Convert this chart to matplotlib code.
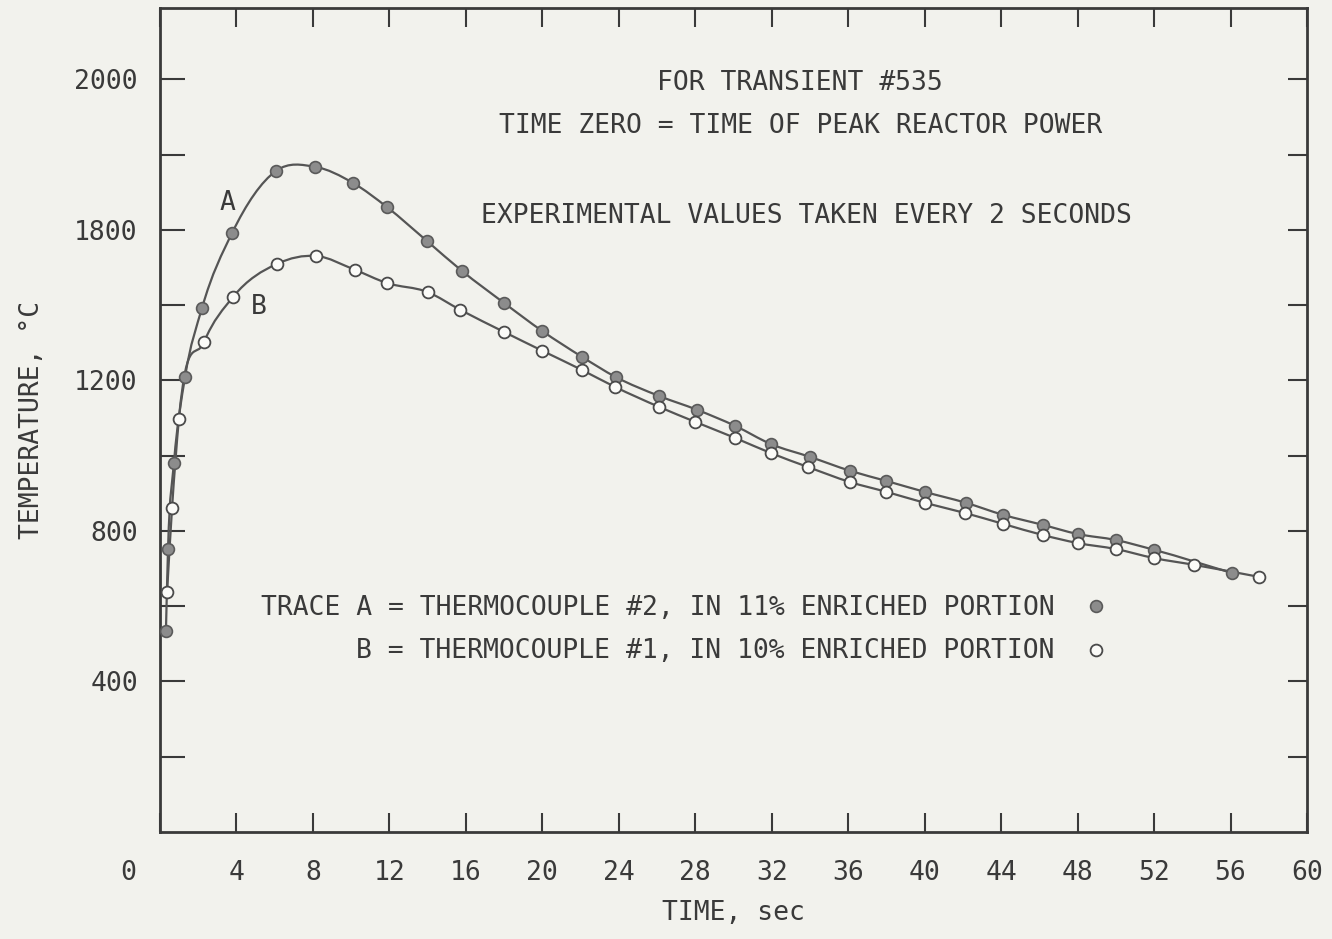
import numpy as np
import matplotlib
matplotlib.use("Agg")
import matplotlib.pyplot as plt
from matplotlib.path import Path
from matplotlib.patches import PathPatch
from matplotlib.transforms import ScaledTranslation

# ---- data -------------------------------------------------------------
# Trace A: thermocouple #2 (11% enriched portion)
a_time = [0.31, 0.42, 0.73, 1.31, 2.2, 3.77, 6.07, 8.1, 10.1, 11.87, 13.96,
          15.8, 18.0, 19.98, 22.07, 23.85, 26.1, 28.1, 30.1, 31.96, 34.0,
          36.1, 38.0, 40.0, 42.15, 44.1, 46.2, 48.0, 50.0, 52.0, 56.1]
a_temp = [534, 752, 981, 1209, 1393, 1592, 1757, 1768, 1725, 1661, 1571,
          1491, 1406, 1332, 1263, 1209, 1159, 1122, 1079, 1031, 997,
          960, 933, 904, 875, 843, 816, 792, 776, 750, 688]

# Trace B: thermocouple #1 (10% enriched portion)
b_time = [0.37, 0.63, 0.99, 2.3, 3.82, 6.12, 8.16, 10.2, 11.87, 14.0, 15.7,
          18.0, 20.0, 22.07, 23.8, 26.1, 28.0, 30.1, 31.96, 33.9, 36.1,
          38.0, 40.0, 42.1, 44.1, 46.2, 48.0, 50.0, 52.0, 54.1, 57.5]
b_temp = [638, 861, 1098, 1302, 1422, 1510, 1531, 1494, 1459, 1435, 1388,
          1329, 1279, 1228, 1183, 1130, 1090, 1047, 1007, 970, 930,
          904, 875, 848, 819, 789, 768, 752, 728, 710, 678]

x_ticks = list(range(0, 61, 4))
x_tick_labels = [str(v) for v in x_ticks]
y_ticks = list(range(200, 2001, 200))
y_label_pos = [400, 800, 1200, 1600, 2000]
y_label_text = ["400", "800", "1200", "1800", "2000"]

# ---- style ------------------------------------------------------------
plt.rcParams["font.family"] = ["DejaVu Sans Mono", "DejaVu Sans"]

PAPER = "#f2f2ed"
INK = "#3a3a3a"
LINE = "#555555"
FS = 19

W, H = 1332, 939
fig = plt.figure(figsize=(W / 100, H / 100), dpi=100)
fig.patch.set_facecolor(PAPER)

L, R, T, B = 160, 1307, 8, 832
ax = fig.add_axes([L / W, 1 - B / H, (R - L) / W, (B - T) / H])
ax.set_facecolor(PAPER)
ax.set_xlim(0, 60)
ax.set_ylim(0, 2190)


def smooth_path(x, y):
    """Cubic Hermite curve through the points, expressed as Bezier segments."""
    x = np.asarray(x, float)
    y = np.asarray(y, float)
    h = np.diff(x)
    d = np.diff(y) / h
    m = np.empty_like(y)
    m[0], m[-1] = d[0], d[-1]
    m[1:-1] = (h[:-1] * d[1:] + h[1:] * d[:-1]) / (h[:-1] + h[1:])
    verts = [(x[0], y[0])]
    codes = [Path.MOVETO]
    for i in range(len(x) - 1):
        hh = h[i]
        verts += [(x[i] + hh / 3, y[i] + m[i] * hh / 3),
                  (x[i + 1] - hh / 3, y[i + 1] - m[i + 1] * hh / 3),
                  (x[i + 1], y[i + 1])]
        codes += [Path.CURVE4] * 3
    return Path(verts, codes)


for tx, ty in ((a_time, a_temp), (b_time, b_temp)):
    ax.add_patch(PathPatch(smooth_path(tx, ty), fill=False, edgecolor=LINE,
                           lw=1.6, zorder=2))

ax.plot(a_time, a_temp, ls="none", marker="o", ms=8.5, mfc="#8c8c8c",
        mec="#5a5a5a", mew=1.2, zorder=3)
ax.plot(b_time, b_temp, ls="none", marker="o", ms=8.5, mfc="#fbfbf8",
        mec="#4a4a4a", mew=1.3, zorder=4)

# ---- frame and ticks --------------------------------------------------
for s in ax.spines.values():
    s.set_color("#3a3a3a")
    s.set_linewidth(2.0)

ax.set_xticks(x_ticks)
ax.set_xticklabels(x_tick_labels)
ax.set_yticks(y_ticks)
ax.set_yticklabels([y_label_text[y_label_pos.index(v)] if v in y_label_pos else ""
                    for v in y_ticks])
ax.tick_params(axis="both", direction="in", length=14, width=1.5,
               color="#3a3a3a", top=True, right=True, labelcolor=INK,
               labelsize=FS)
ax.tick_params(axis="x", pad=20)
ax.tick_params(axis="y", pad=16)
for tk in ax.yaxis.get_major_ticks():
    tk.tick1line.set_markersize(18)

# the "0" sits a little left of the frame corner
lbl0 = ax.get_xticklabels()[0]
lbl0.set_transform(lbl0.get_transform() + ScaledTranslation(-0.32, 0, fig.dpi_scale_trans))

ax.set_xlabel("TIME, sec", fontsize=FS, color=INK, labelpad=10)
ax.set_ylabel("TEMPERATURE, \u00b0C", fontsize=FS, color=INK, labelpad=21)


def ftext(px, py, s, **kw):
    kw.setdefault("fontsize", FS)
    kw.setdefault("color", INK)
    fig.text(px / W, 1 - py / H, s, va="center", **kw)


ftext(800, 83, "FOR TRANSIENT #535", ha="center")
ftext(801, 126, "TIME ZERO = TIME OF PEAK REACTOR POWER", ha="center")
ftext(806, 216, "EXPERIMENTAL VALUES TAKEN EVERY 2 SECONDS", ha="center")
ftext(227, 203, "A", ha="center")
ftext(259, 307, "B", ha="center")
ftext(1055, 608, "TRACE A = THERMOCOUPLE #2, IN 11% ENRICHED PORTION", ha="right")
ftext(1055, 651, "B = THERMOCOUPLE #1, IN 10% ENRICHED PORTION", ha="right")

# legend symbols
key_ax = fig.add_axes([0, 0, 1, 1], facecolor="none")
key_ax.set_axis_off()
key_ax.set_xlim(0, W)
key_ax.set_ylim(H, 0)
key_ax.plot([1096], [606], ls="none", marker="o", ms=8.5, mfc="#8c8c8c",
            mec="#5a5a5a", mew=1.2)
key_ax.plot([1096], [650], ls="none", marker="o", ms=8.5, mfc="#fbfbf8",
            mec="#4a4a4a", mew=1.3)

fig.savefig("out.png", dpi=100, facecolor=PAPER)
